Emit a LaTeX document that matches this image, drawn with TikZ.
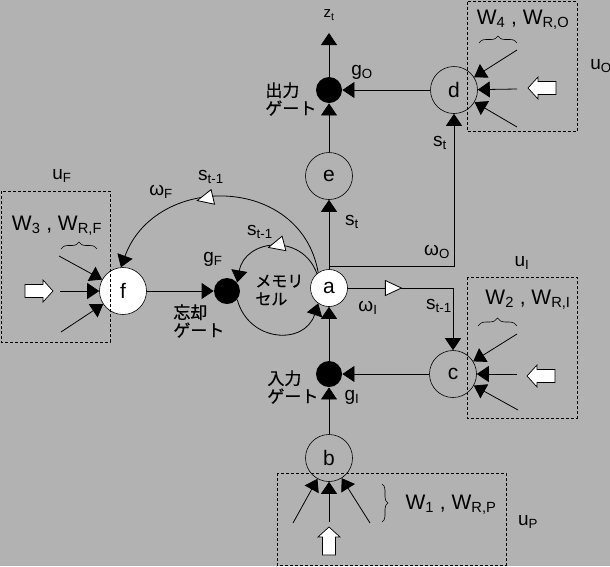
\documentclass[tikz,border=0pt]{standalone}
\usepackage{fontspec}
\setmainfont{Liberation Sans}
\newfontfamily\jpfont[FakeBold=0.6]{Noto Sans CJK JP}
\usetikzlibrary{arrows.meta,decorations.pathreplacing,decorations.markings}

\begin{document}
\begin{tikzpicture}[x=1pt,y=1pt,
	>={Triangle[length=12pt,width=16pt]},
	line width=0.8pt,
	unit/.style={circle, draw, line width=0.6pt, minimum size=47pt, inner sep=0pt, font=\fontsize{21}{23}\selectfont},
	gate/.style={circle, fill=black, minimum size=26pt, inner sep=0pt},
	lbl/.style={inner sep=0pt, font=\fontsize{19}{21}\selectfont},
	wlbl/.style={inner sep=0pt, font=\fontsize{21}{23}\selectfont},
	jlbl/.style={inner sep=0pt, align=left, anchor=west, font=\fontsize{17}{18}\selectfont\jpfont},
	inbox/.style={dash pattern=on 3pt off 2pt, line width=0.7pt},
	opentri/.style={postaction={decorate}, decoration={markings, mark=at position #1 with {\filldraw[fill=white, line width=0.8pt] (-16pt,-7.5pt) -- (0pt,0pt) -- (-16pt,7.5pt) -- cycle;}}},
	brc/.style={decorate, decoration={brace, amplitude=#1}, line width=0.6pt},
	blockarrow/.pic={\filldraw[fill=white, line width=0.7pt] (-14,-6.5) -- (4,-6.5) -- (4,-11) -- (14,0) -- (4,11) -- (4,6.5) -- (-14,6.5) -- cycle;}
	]
	% Background
	\fill[black!30] (0,0) rectangle (610,-566);
	\useasboundingbox (0,0) rectangle (610,-566);

	% Units
	\node[unit, fill=white, minimum size=37pt] (a) at (329,-288) {a};
	\node[unit] (e) at (329,-176) {e};
	\node[unit] (d) at (454,-90) {d};
	\node[unit] (c) at (453,-374) {c};
	\node[unit] (b) at (329,-458) {b};
	\node[unit, fill=white] (f) at (123,-291) {f};
	% Gates
	\node[gate] (gO) at (329,-90) {};
	\node[gate] (gI) at (329,-374) {};
	\node[gate] (gF) at (227,-291) {};

	% Output path
	\coordinate (zt) at (329,-33);
	\draw[->] (gO) -- (zt);
	\draw[->] (e) -- (gO);
	\draw[->] (d) -- (gO);
	\draw[->] (a) -- (e);
	\draw[->] ([yshift=3pt]a.north) -| (d);
	% Input path
	\draw[->, opentri=0.32] (a) -| (c);
	\draw[->] (c) -- (gI);
	\draw[->] (gI) -- (a);
	\draw[->] (b) -- (gI);
	% Forget path
	\draw[->] (f) -- (gF);
	\draw[->, opentri=0.6] (a.125) to[out=100, in=70, looseness=1.3] (f.95);
	% Memory cell loop
	\draw[->, opentri=0.55] (a.130) to[out=110, in=80, looseness=1.4] (gF.40);
	\draw[->] (gF.-40) to[out=285, in=252, looseness=1.4] (a.-125);

	% External inputs
	%d
	\coordinate (dI1) at (517,-50);
	\coordinate (dI2) at (517,-89);
	\coordinate (dI3) at (517,-127);
	\draw[->] (dI1) -- (d);
	\draw[->] (dI2) -- (d);
	\draw[->] (dI3) -- (d);
	%c
	\coordinate (cI1) at (517,-334);
	\coordinate (cI2) at (517,-374);
	\coordinate (cI3) at (518,-410);
	\draw[->] (cI1) -- (c);
	\draw[->] (cI2) -- (c);
	\draw[->] (cI3) -- (c);
	%f
	\coordinate (fI1) at (59,-256);
	\coordinate (fI2) at (60,-291);
	\coordinate (fI3) at (61,-332);
	\draw[->] (fI1) -- (f);
	\draw[->] (fI2) -- (f);
	\draw[->] (fI3) -- (f);
	%b
	\coordinate (bI1) at (293,-523);
	\coordinate (bI2) at (329,-522);
	\coordinate (bI3) at (370,-523);
	\draw[->] (bI1) -- (b);
	\draw[->] (bI2) -- (b);
	\draw[->] (bI3) -- (b);

	% Braces
	\draw[brc=7pt] (479,-43) -- (517,-43);
	\draw[brc=8pt] (478,-326) -- (517,-326);
	\draw[brc=7pt] (61,-249) -- (97,-249);
	\draw[brc=6pt] (382,-484) -- (382,-522);

	% Block arrows
	\pic at (39,-291) {blockarrow};
	\pic[rotate=180] at (541,-376) {blockarrow};
	\pic[rotate=180] at (542,-88) {blockarrow};
	\pic[rotate=90] at (329,-541) {blockarrow};

	% Input boxes
	\draw[inbox] (1,-191) rectangle (110,-342);
	\draw[inbox] (467,-1.5) rectangle (577,-131);
	\draw[inbox] (467,-277) rectangle (577,-418);
	\draw[inbox] (277,-473) rectangle (506,-565);

	% Labels
	\node[lbl, font=\fontsize{15}{17}\selectfont] (ztl) at (329,-15) {z\textsubscript{t}};
	\node[lbl] (gOl) at (362,-72) {g\textsubscript{O}};
	\node[jlbl] (gOj) at (265,-99) {出力\\ゲート};
	\node[lbl] (ste) at (352,-222) {s\textsubscript{t}};
	\node[lbl] (wO) at (437,-252) {ω\textsubscript{O}};
	\node[lbl] (std) at (440,-143) {s\textsubscript{t}};
	\node[lbl] (wI) at (368,-308) {ω\textsubscript{I}};
	\node[lbl] (stc) at (439,-306) {s\textsubscript{t-1}};
	\node[lbl] (gIl) at (352,-397) {g\textsubscript{I}};
	\node[jlbl] (gIj) at (267,-387) {入力\\ゲート};
	\node[jlbl] (gFj) at (173,-321) {忘却\\ゲート};
	\node[lbl] (gFl) at (213,-259) {g\textsubscript{F}};
	\node[lbl] (stm) at (260,-232) {s\textsubscript{t-1}};
	\node[inner sep=0pt, align=left, anchor=west, font=\fontsize{16}{18}\selectfont\jpfont] (mem) at (255,-290) {メモリ\\セル};
	\node[lbl] (wF) at (161,-192) {ω\textsubscript{F}};
	\node[lbl] (stf) at (211,-177) {s\textsubscript{t-1}};
	% Input names
	\node[lbl] (uF) at (62,-176) {u\textsubscript{F}};
	\node[wlbl] (WF) at (57,-226) {W\textsubscript{3} , W\textsubscript{R,F}};
	\node[lbl] (uO) at (601,-66) {u\textsubscript{O}};
	\node[wlbl] (WO) at (523,-20) {W\textsubscript{4} , W\textsubscript{R,O}};
	\node[lbl] (uI) at (522,-263) {u\textsubscript{I}};
	\node[wlbl] (WI) at (528,-300) {W\textsubscript{2} , W\textsubscript{R,I}};
	\node[lbl] (uP) at (528,-522) {u\textsubscript{P}};
	\node[wlbl] (WP) at (451,-505) {W\textsubscript{1} , W\textsubscript{R,P}};
\end{tikzpicture}
\end{document}
